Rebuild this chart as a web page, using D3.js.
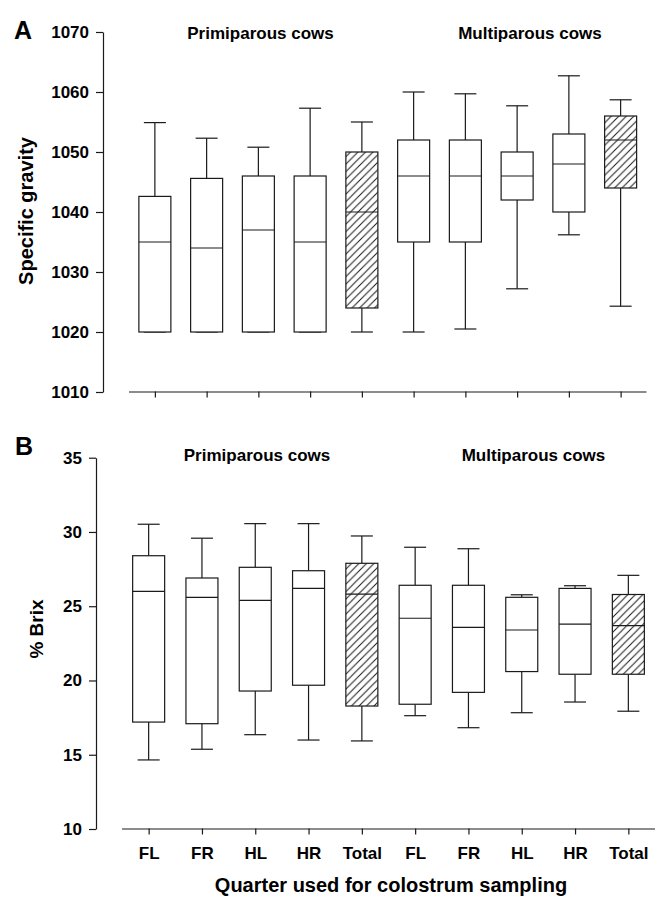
<!DOCTYPE html>
<html>
<head>
<meta charset="utf-8">
<script src="https://cdn.jsdelivr.net/npm/d3@7"></script>
<style>
  body { margin: 0; background: #fff; }
  svg { display: block; font-family: "Liberation Sans", Arial, sans-serif; }
  text { font-weight: bold; fill: #000; }
</style>
</head>
<body>
<svg id="chart" width="665" height="907"></svg>
<script>
// ---- data ----
const categories = ["FL", "FR", "HL", "HR", "Total", "FL", "FR", "HL", "HR", "Total"];
const groupLabels = ["Primiparous cows", "Multiparous cows"];
const hatched = [false, false, false, false, true, false, false, false, false, true];

// Panel A: specific gravity
const sgMin = [1020, 1020, 1020, 1020, 1020, 1020, 1020.5, 1027.2, 1036.2, 1024.3];
const sgQ1  = [1020, 1020, 1020, 1020, 1024, 1035, 1035, 1042, 1040, 1044];
const sgMed = [1035, 1034, 1037, 1035, 1040, 1046, 1046, 1046, 1048, 1052];
const sgQ3  = [1042.6, 1045.6, 1046, 1046, 1050, 1052, 1052, 1050, 1053, 1056];
const sgMax = [1054.9, 1052.3, 1050.8, 1057.3, 1055, 1060, 1059.7, 1057.7, 1062.7, 1058.7];
const sgTicks = [1010, 1020, 1030, 1040, 1050, 1060, 1070];

// Panel B: % Brix
const brixMin = [14.65, 15.37, 16.35, 15.99, 15.93, 17.63, 16.82, 17.83, 18.55, 17.93];
const brixQ1  = [17.2, 17.09, 19.29, 19.68, 18.28, 18.4, 19.2, 20.6, 20.42, 20.42];
const brixMed = [26.0, 25.6, 25.4, 26.2, 25.82, 24.19, 23.58, 23.4, 23.8, 23.69];
const brixQ3  = [28.4, 26.9, 27.62, 27.39, 27.89, 26.41, 26.41, 25.6, 26.2, 25.79];
const brixMax = [30.52, 29.58, 30.56, 30.56, 29.73, 28.97, 28.87, 25.77, 26.38, 27.08];
const brixTicks = [10, 15, 20, 25, 30, 35];

const svg = d3.select("#chart");
const ink = "#1a1a1a";

// hatch pattern
const defs = svg.append("defs");
const pat = defs.append("pattern")
  .attr("id", "hatch").attr("patternUnits", "userSpaceOnUse")
  .attr("width", 7.5).attr("height", 7.5);
pat.append("rect").attr("width", 7.5).attr("height", 7.5).attr("fill", "#fff");
pat.append("path").attr("d", "M-1,8.5 L8.5,-1 M-1,1 L1,-1 M6.5,8.5 L8.5,6.5")
  .attr("stroke", ink).attr("stroke-width", 1);

function panel(opts) {
  const { yAxisX, yTop, yBottom, domain, ticks, xRange, xAxisY,
          mins, q1s, meds, q3s, maxs, showLabels, letter, letterPos,
          yTitle, yTitlePos, yTitleSize, groupPos, groupY } = opts;

  const y = d3.scaleLinear().domain(domain).range([yBottom, yTop]);
  const idx = categories.map((c, i) => i);
  const x = d3.scalePoint().domain(idx).range(xRange).padding(0.5);

  const g = svg.append("g");

  // y axis
  const ya = g.append("g").attr("transform", `translate(${yAxisX},0)`)
    .call(d3.axisLeft(y).tickValues(ticks).tickSize(7).tickSizeOuter(0).tickPadding(7).tickFormat(d3.format("d")));
  ya.selectAll("path, line").attr("stroke", ink).attr("stroke-width", 1.2);
  ya.selectAll("text").style("font-size", "17px").style("font-weight", "bold")
    .attr("fill", "#000").style("font-family", "'Liberation Sans', Arial, sans-serif");

  // x axis
  const xa = g.append("g").attr("transform", `translate(0,${xAxisY})`)
    .call(d3.axisBottom(x).tickSize(6).tickSizeOuter(0).tickPadding(12)
      .tickFormat(i => showLabels ? categories[i] : ""));
  xa.select(".domain").attr("d", `M${xRange[0]},0.5H${xRange[1]}`);
  xa.selectAll("path, line").attr("stroke", ink).attr("stroke-width", 1.2);
  xa.selectAll("text").style("font-size", "17px").style("font-weight", "bold")
    .attr("fill", "#000").style("font-family", "'Liberation Sans', Arial, sans-serif");

  const boxW = 32, capW = 22;
  const boxes = g.append("g").selectAll("g").data(idx).join("g");

  // whiskers
  boxes.append("line")
    .attr("x1", i => x(i)).attr("x2", i => x(i))
    .attr("y1", i => y(maxs[i])).attr("y2", i => y(q3s[i]))
    .attr("stroke", ink).attr("stroke-width", 1.2);
  boxes.append("line")
    .attr("x1", i => x(i)).attr("x2", i => x(i))
    .attr("y1", i => y(q1s[i])).attr("y2", i => y(mins[i]))
    .attr("stroke", ink).attr("stroke-width", 1.2);
  boxes.append("line")
    .attr("x1", i => x(i) - capW / 2).attr("x2", i => x(i) + capW / 2)
    .attr("y1", i => y(maxs[i])).attr("y2", i => y(maxs[i]))
    .attr("stroke", ink).attr("stroke-width", 1.2);
  boxes.append("line")
    .attr("x1", i => x(i) - capW / 2).attr("x2", i => x(i) + capW / 2)
    .attr("y1", i => y(mins[i])).attr("y2", i => y(mins[i]))
    .attr("stroke", ink).attr("stroke-width", 1.2);
  // box
  boxes.append("rect")
    .attr("x", i => x(i) - boxW / 2).attr("width", boxW)
    .attr("y", i => y(q3s[i])).attr("height", i => y(q1s[i]) - y(q3s[i]))
    .attr("fill", i => hatched[i] ? "url(#hatch)" : "#fff")
    .attr("stroke", ink).attr("stroke-width", 1.2);
  // median
  boxes.append("line")
    .attr("x1", i => x(i) - boxW / 2).attr("x2", i => x(i) + boxW / 2)
    .attr("y1", i => y(meds[i])).attr("y2", i => y(meds[i]))
    .attr("stroke", ink).attr("stroke-width", 1.2);

  // panel letter
  g.append("text").attr("x", letterPos[0]).attr("y", letterPos[1])
    .style("font-size", "25px").text(letter);

  // group titles
  groupLabels.forEach((t, k) => {
    g.append("text").attr("x", groupPos[k]).attr("y", groupY)
      .attr("text-anchor", "middle").style("font-size", "17px").text(t);
  });

  // y title
  g.append("text")
    .attr("transform", `translate(${yTitlePos[0]},${yTitlePos[1]}) rotate(-90)`)
    .attr("text-anchor", "middle").style("font-size", yTitleSize).text(yTitle);
}

panel({
  yAxisX: 103, yTop: 32, yBottom: 392, domain: [1010, 1070], ticks: sgTicks,
  xRange: [129, 646.5], xAxisY: 391.5,
  mins: sgMin, q1s: sgQ1, meds: sgMed, q3s: sgQ3, maxs: sgMax,
  showLabels: false, letter: "A", letterPos: [14, 39],
  yTitle: "Specific gravity", yTitlePos: [33, 211], yTitleSize: "20px",
  groupPos: [260.5, 530], groupY: 38.5
});

panel({
  yAxisX: 96, yTop: 457.7, yBottom: 829, domain: [10, 35], ticks: brixTicks,
  xRange: [122, 655], xAxisY: 828.5,
  mins: brixMin, q1s: brixQ1, meds: brixMed, q3s: brixQ3, maxs: brixMax,
  showLabels: true, letter: "B", letterPos: [15, 455],
  yTitle: "% Brix", yTitlePos: [43, 629], yTitleSize: "19px",
  groupPos: [257, 533.5], groupY: 461
});

// x title
svg.append("text").attr("x", 391).attr("y", 892).attr("text-anchor", "middle")
  .style("font-size", "20px").text("Quarter used for colostrum sampling");
</script>
</body>
</html>
